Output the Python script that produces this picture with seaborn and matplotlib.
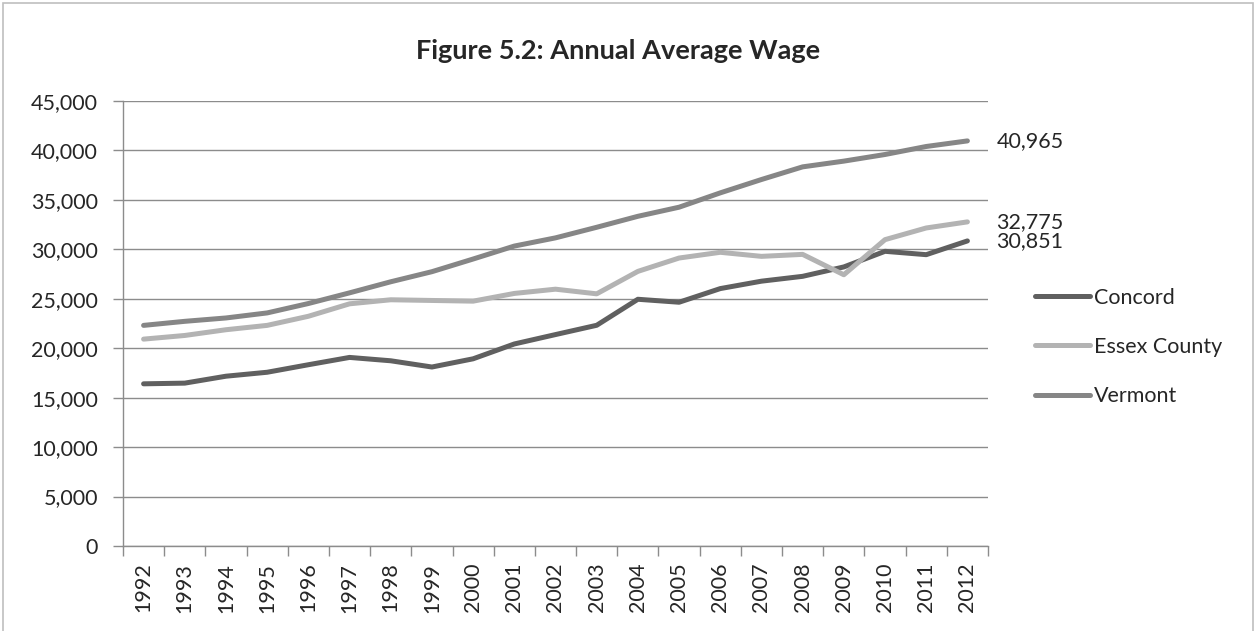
import matplotlib
matplotlib.use("Agg")
import matplotlib.pyplot as plt
import seaborn as sns
import pandas as pd
from matplotlib.patches import Rectangle
from matplotlib.ticker import FuncFormatter, FixedLocator

years = [str(y) for y in range(1992, 2013)]
concord = [16400, 16470, 17170, 17570, 18330, 19070, 18730, 18100, 18930, 20430,
           21380, 22320, 24950, 24650, 26030, 26780, 27270, 28220, 29800, 29460, 30851]
essex = [20920, 21290, 21870, 22310, 23230, 24490, 24900, 24830, 24760, 25540,
         25970, 25500, 27770, 29120, 29700, 29290, 29490, 27430, 30980, 32160, 32775]
vermont = [22310, 22720, 23060, 23570, 24520, 25600, 26720, 27740, 29020, 30330,
           31160, 32230, 33340, 34260, 35710, 37060, 38340, 38920, 39590, 40400, 40965]
series_names = ["Concord", "Essex County", "Vermont"]
colors = ["#606060", "#b3b3b3", "#868686"]
title = "Figure 5.2: Annual Average Wage"

df = pd.DataFrame({
    "Year": years * 3,
    "Wage": concord + essex + vermont,
    "Series": [series_names[0]] * len(years) + [series_names[1]] * len(years) + [series_names[2]] * len(years),
})

sns.set_theme(style="white")
plt.rcParams["font.family"] = ["Lato", "DejaVu Sans"]

FS = 15.5

fig = plt.figure(figsize=(12.56, 6.31), dpi=100)
ax = fig.add_axes([123/1256, 1 - 546/631, (988-123)/1256, (546-101)/631])

sns.lineplot(data=df, x="Year", y="Wage", hue="Series", palette=dict(zip(series_names, colors)),
             linewidth=3.6, ax=ax, sort=False, legend=False,
             solid_capstyle="round", solid_joinstyle="round")

ax.set_xlim(-0.5, len(years) - 0.5)
ax.set_ylim(0, 45000)
ax.set_yticks(range(0, 45001, 5000))
ax.yaxis.set_major_formatter(FuncFormatter(lambda v, p: f"{int(v):,}"))
ax.grid(axis="y", color="#8c8c8c", linewidth=1.0)
ax.grid(axis="x", visible=False)
ax.set_axisbelow(True)
ax.set_xlabel("")
ax.set_ylabel("")

for s in ["top", "right"]:
    ax.spines[s].set_visible(False)
for s in ["left", "bottom"]:
    ax.spines[s].set_color("#8c8c8c")
    ax.spines[s].set_linewidth(1.0)

ax.set_xticks(range(len(years)))
ax.set_xticklabels(years, rotation=90, fontsize=FS)
ax.xaxis.set_minor_locator(FixedLocator([i - 0.5 for i in range(len(years) + 1)]))
ax.tick_params(axis="x", which="major", length=0, pad=12)
ax.tick_params(axis="x", which="minor", length=7, color="#8c8c8c", width=1, direction="out", bottom=True)
ax.tick_params(axis="y", which="major", length=7, color="#8c8c8c", width=1, direction="out", left=True,
               labelsize=FS, pad=11)

# end-value labels
last = len(years) - 1
for vals in [vermont, essex, concord]:
    ax.annotate(f"{vals[-1]:,}", xy=(last, vals[-1]), xytext=(21, 0),
                textcoords="offset points", va="center", ha="left", fontsize=FS)

# legend
handles = [plt.Line2D([0], [0], color=c, linewidth=3.6, solid_capstyle="round") for c in colors]
fig.legend(handles, series_names, loc="upper left", bbox_to_anchor=(1026/1256, 1 - 279/631),
           frameon=False, fontsize=FS, handlelength=2.55, handletextpad=0.2, labelspacing=1.36,
           borderaxespad=0)

fig.text(618/1256, 1 - 51/631, title, ha="center", va="center", fontsize=19.5, fontweight="bold")

fig.patches.append(Rectangle((3/1256, -0.05), (1253-3)/1256, 1.05 - 3/631, transform=fig.transFigure,
                             fill=False, edgecolor="#bfbfbf", linewidth=1.2))

fig.savefig("out.png", dpi=100, facecolor="white")
